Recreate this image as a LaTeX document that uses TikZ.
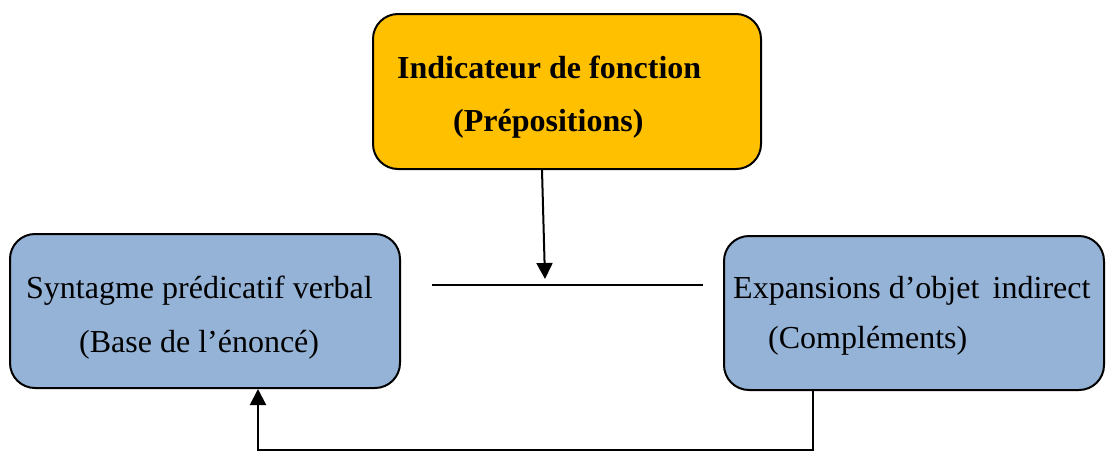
\documentclass[tikz,border=0pt]{standalone}
\usepackage{fontspec}
\setmainfont{Liberation Serif}
\usetikzlibrary{arrows.meta,calc}
\definecolor{boxorange}{HTML}{FFC000}
\definecolor{boxblue}{HTML}{95B3D7}
\begin{document}
\begin{tikzpicture}[x=1pt,y=-1pt,
  box/.style={draw=black,line width=2pt,rounded corners=25pt,inner sep=0pt},
  txt/.style={anchor=base west,inner sep=0pt,font=\fontsize{32}{38}\selectfont},
  btxt/.style={txt,font=\fontsize{32}{38}\selectfont\bfseries},
  conn/.style={draw=black,line width=2pt},
  arr/.style={conn,-{Triangle[length=16pt,width=16pt]}}]
\useasboundingbox (0,0) rectangle (1107,453);
% boxes
\node[box,fill=boxorange,minimum width=388pt,minimum height=155pt] (top) at (567,91.5) {};
\node[box,fill=boxblue,minimum width=390pt,minimum height=154pt] (left) at (205,311) {};
\node[box,fill=boxblue,minimum width=380pt,minimum height=154pt] (right) at (914,313) {};
% texts
\node[btxt] (t1) at (397,78) {Indicateur de fonction};
\node[btxt] (t2) at (453,131) {(Prépositions)};
\node[txt] (l1) at (26,298) {Syntagme prédicatif verbal};
\node[txt] (l2) at (79,352) {(Base de l’énoncé)};
\node[txt] (r1) at (733,298) {Expansions d’objet\, indirect};
\node[txt] (r2) at (768,348) {(Compléments)};
% connectors
\coordinate (hl) at (432,285);
\coordinate (hr) at (703,285);
\draw[conn] (hl) -- (hr);
\coordinate (a1) at (542,0);
\coordinate (tip) at (545,279);
\draw[arr] (top.south -| a1) -- (tip);
\coordinate (c1) at (813,450);
\coordinate (c2) at (258,450);
\draw[arr] (c1 |- right.south) -- (c1) -- (c2) -- (c2 |- left.south);
\end{tikzpicture}
\end{document}
